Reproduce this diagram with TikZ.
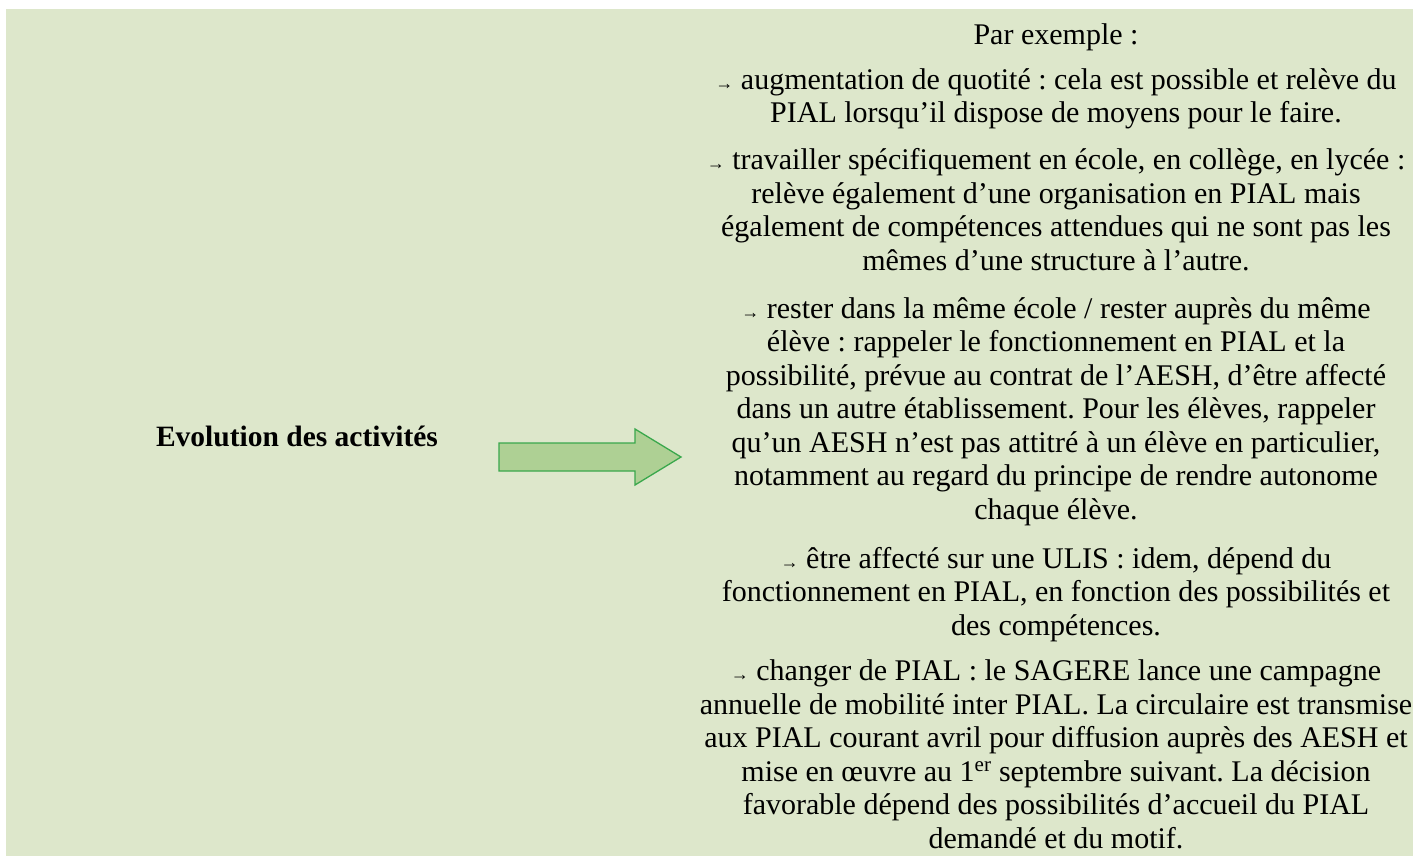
\documentclass[tikz,border=0pt]{standalone}
\usepackage{fontspec}
\setmainfont{Liberation Serif}
\frenchspacing
\definecolor{fondvert}{RGB}{221,231,203}
\definecolor{flechefond}{RGB}{174,208,148}
\definecolor{flechetrait}{RGB}{58,168,76}
\newcommand{\fl}{{\fontsize{18}{18}\selectfont →}}
\begin{document}
\begin{tikzpicture}[x=1pt,y=-1pt]
\tikzstyle{texte}=[inner sep=0pt,anchor=base,align=center,font=\fontsize{30}{33.5}\selectfont]
\tikzstyle{titre}=[inner sep=0pt,anchor=base,font=\bfseries\fontsize{29.5}{33.5}\selectfont]
\tikzstyle{bloc}=[draw=flechetrait,fill=flechefond,line width=1.3pt,line join=miter]
\useasboundingbox (0,0) rectangle (1417,856);
\fill[fondvert] (6,9) rectangle (1413,856);
\node[titre] (activites) at (297,446) {Evolution des activités};
\coordinate (f0) at (499,443);
\draw[bloc] (f0) -- (635,443) -- (635,429) -- (681,457) -- (635,485) -- (635,471) -- (499,471) -- cycle;
\node[texte] (p0) at (1056,45) {Par exemple :};
\node[texte] (p1) at (1056,123) {\fl{} augmentation de quotité : cela est possible et relève du\\
PIAL lorsqu’il dispose de moyens pour le faire.};
\node[texte] (p2) at (1056,270) {\fl{} travailler spécifiquement en école, en collège, en lycée :\\
relève également d’une organisation en PIAL mais\\
également de compétences attendues qui ne sont pas les\\
mêmes d’une structure à l’autre.};
\node[texte] (p3) at (1056,519) {\fl{} rester dans la même école / rester auprès du même\\
élève : rappeler le fonctionnement en PIAL et la\\
possibilité, prévue au contrat de l’AESH, d’être affecté\\
dans un autre établissement. Pour les élèves, rappeler\\
qu’un AESH n’est pas attitré à un élève en particulier,\\
notamment au regard du principe de rendre autonome\\
chaque élève.};
\node[texte] (p4) at (1056,635) {\fl{} être affecté sur une ULIS : idem, dépend du\\
fonctionnement en PIAL, en fonction des possibilités et\\
des compétences.};
\node[texte] (p5) at (1056,848) {\fl{} changer de PIAL : le SAGERE lance une campagne\\
annuelle de mobilité inter PIAL. La circulaire est transmise\\
aux PIAL courant avril pour diffusion auprès des AESH et\\
mise en œuvre au 1\textsuperscript{er} septembre suivant. La décision\\
favorable dépend des possibilités d’accueil du PIAL\\
demandé et du motif.};
\end{tikzpicture}
\end{document}
